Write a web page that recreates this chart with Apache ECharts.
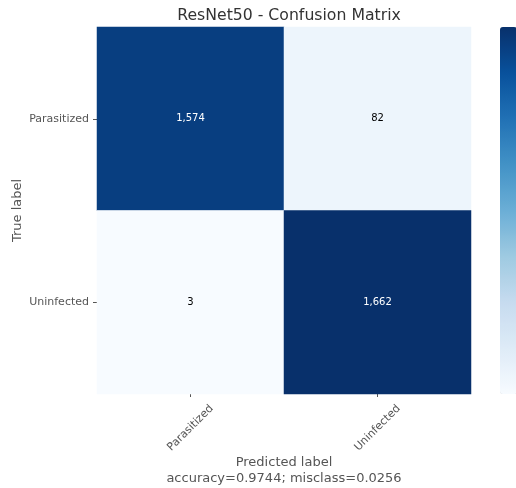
<!DOCTYPE html>
<html lang="en">
<head>
    <meta charset="UTF-8">
    <title>ResNet50 - Confusion Matrix</title>
    <script src="https://cdn.jsdelivr.net/npm/echarts@6/dist/echarts.min.js"></script>
    <style>
        html, body, #chart {
            width: 516px;
            height: 488px;
            padding: 0;
            margin: 0;
            background: #fff;
        }
    </style>
</head>
<body>
<div id="chart"></div>
<script>
    var classes = ["Parasitized", "Uninfected"];
    // rows = true label, columns = predicted label
    var matrix = [
        [1574, 82],
        [3, 1662]
    ];
    var accuracy = "0.9744";
    var misclass = "0.0256";

    var blues = ["#f7fbff", "#deebf7", "#c6dbef", "#9ecae1", "#6baed6",
                 "#4292c6", "#2171b5", "#08519c", "#08306b"];

    var cells = [];
    var maxVal = 0, minVal = Infinity;
    matrix.forEach(function (row, i) {
        row.forEach(function (v, j) {
            cells.push([j, i, v]);
            maxVal = Math.max(maxVal, v);
            minVal = Math.min(minVal, v);
        });
    });
    var thresh = maxVal / 2;

    var myChart = echarts.init(document.getElementById("chart"));
    myChart.setOption({
        animation: false,
        title: {
            text: "ResNet50 - Confusion Matrix",
            left: 284,
            textAlign: "center",
            top: 3,
            textStyle: {
                color: "#333",
                fontSize: 15.7,
                fontWeight: "normal",
                fontFamily: "DejaVu Sans"
            }
        },
        grid: {
            left: 97,
            right: 45,
            top: 27,
            bottom: 94,
            outerBoundsMode: "none"
        },
        xAxis: {
            type: "category",
            data: classes,
            name: "Predicted label\naccuracy=" + accuracy + "; misclass=" + misclass,
            nameLocation: "middle",
            nameGap: 61,
            nameMoveOverlap: false,
            nameTextStyle: {
                color: "#555",
                fontSize: 13,
                lineHeight: 16,
                fontFamily: "DejaVu Sans"
            },
            axisLine: {show: true, lineStyle: {color: "rgba(0,0,0,0)"}},
            axisTick: {
                show: true,
                alignWithLabel: true,
                length: 3,
                lineStyle: {color: "#555"}
            },
            axisLabel: {
                rotate: 45,
                align: "center",
                verticalAlign: "middle",
                color: "#555",
                fontSize: 11,
                margin: 34,
                fontFamily: "DejaVu Sans"
            },
            splitArea: {show: false}
        },
        yAxis: {
            type: "category",
            data: classes,
            inverse: true,
            name: "True label",
            nameLocation: "middle",
            nameRotate: 90,
            nameGap: 73,
            nameMoveOverlap: false,
            nameTextStyle: {
                color: "#555",
                fontSize: 13,
                fontFamily: "DejaVu Sans"
            },
            axisLine: {show: true, lineStyle: {color: "rgba(0,0,0,0)"}},
            axisTick: {
                show: true,
                alignWithLabel: true,
                length: 4,
                lineStyle: {color: "#555"}
            },
            axisLabel: {
                color: "#555",
                fontSize: 11,
                margin: 8,
                fontFamily: "DejaVu Sans"
            }
        },
        visualMap: {
            type: "continuous",
            min: minVal,
            max: maxVal,
            calculable: false,
            orient: "vertical",
            left: 500,
            top: 27,
            padding: 0,
            itemWidth: 17,
            itemHeight: 367,
            showLabel: false,
            inRange: {color: blues}
        },
        series: [{
            type: "heatmap",
            itemStyle: {
                borderWidth: 0
            },
            label: {
                show: true,
                fontSize: 10,
                fontFamily: "DejaVu Sans",
                formatter: function (p) {
                    return p.value[2].toLocaleString("en-US");
                },
                color: "#000"
            },
            data: cells.map(function (c) {
                return {
                    value: c,
                    label: {color: c[2] > thresh ? "#fff" : "#000"}
                };
            })
        }]
    });
</script>
</body>
</html>
